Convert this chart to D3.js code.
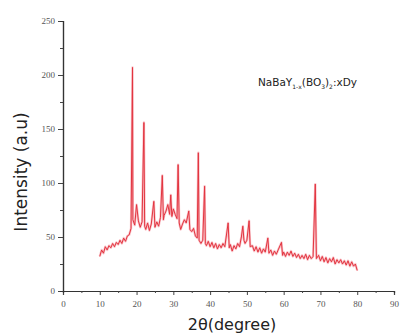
<!DOCTYPE html>
<html>
<head>
<meta charset="utf-8">
<script src="https://cdn.jsdelivr.net/npm/d3@7"></script>
<style>
  body { margin: 0; background: #fff; }
  svg { display: block; }
</style>
</head>
<body>
<div id="chart"></div>
<script>
// XRD pattern
const twoTheta = [
  10.0, 10.5, 11.0, 11.5, 12.0, 12.5, 13.0, 13.5, 14.0, 14.5, 15.0, 15.5, 16.0, 16.5,
  17.0, 17.5, 18.0, 18.5, 18.9, 19.0, 19.5, 20.0, 20.5, 21.0, 21.5, 22.0, 22.2, 22.5,
  23.0, 23.5, 24.0, 24.7, 25.0, 25.5, 26.0, 26.5, 27.0, 27.3, 27.5, 28.0, 28.5, 29.0,
  29.3, 29.6, 30.0, 30.5, 31.0, 31.3, 31.6, 32.0, 32.5, 33.0, 33.5, 34.2, 34.5, 35.0,
  35.5, 36.0, 36.5, 36.8, 37.0, 37.5, 38.0, 38.5, 38.7, 39.0, 39.5, 40.0, 40.5, 41.0,
  41.5, 42.0, 42.5, 43.0, 43.5, 44.0, 44.9, 45.2, 45.5, 46.0, 46.5, 47.0, 47.5, 48.0,
  48.5, 48.9, 49.2, 49.5, 50.0, 50.6, 50.9, 51.5, 52.0, 52.5, 53.0, 53.5, 54.0, 54.5,
  55.0, 55.7, 56.0, 56.5, 57.0, 57.5, 58.0, 58.5, 59.4, 59.7, 60.0, 60.5, 61.0, 61.5,
  62.0, 62.5, 63.0, 63.5, 64.0, 64.5, 65.0, 65.5, 66.0, 66.5, 67.0, 67.5, 68.0, 68.6,
  68.9, 69.5, 70.0, 70.5, 71.0, 71.5, 72.0, 72.5, 73.0, 73.5, 74.0, 74.5, 75.0, 75.5,
  76.0, 76.5, 77.0, 77.5, 78.0, 78.5, 79.0, 79.5, 80.0
];
const intensity = [
  32, 38, 35, 41, 38, 42, 40, 44, 41, 45, 43, 47, 44, 49,
  46, 51, 52, 58, 207, 66, 61, 80, 65, 59, 64, 156, 60, 57,
  63, 56, 62, 83, 59, 64, 60, 68, 107, 66, 70, 74, 80, 71,
  89, 69, 76, 71, 67, 117, 63, 57, 62, 66, 63, 74, 57, 55,
  58, 51, 49, 128, 47, 44, 47, 97, 44, 42, 46, 41, 45, 40,
  44, 39, 43, 40, 44, 41, 63, 40, 43, 37, 42, 39, 44, 41,
  50, 60, 47, 44, 47, 65, 41, 42, 37, 41, 36, 40, 35, 39,
  36, 49, 35, 38, 33, 37, 34, 38, 45, 33, 36, 32, 36, 33,
  37, 32, 35, 31, 34, 30, 33, 30, 34, 29, 33, 30, 32, 99,
  30, 33, 28, 32, 27, 31, 26, 30, 27, 31, 25, 29, 26, 29,
  25, 28, 24, 28, 23, 27, 23, 25, 19
];

const xTicks = [0, 10, 20, 30, 40, 50, 60, 70, 80, 90];
const yTicks = [0, 50, 100, 150, 200, 250];
const sampleLabel = 'NaBaY';

const width = 401;
const height = 335;

const svg = d3.select('#chart')
  .append('svg')
  .attr('width', width)
  .attr('height', height);

const x = d3.scaleLinear().domain([0, 90]).range([63, 394]);
const y = d3.scaleLinear().domain([0, 250]).range([291, 21]);

const points = twoTheta.map((t, i) => ({ t, v: intensity[i] }));
const line = d3.line().x((d) => x(d.t)).y((d) => y(d.v));

// soft pink halo like the scanned figure
svg.append('path')
  .datum(points)
  .attr('fill', 'none')
  .attr('stroke', '#f9c4ca')
  .attr('stroke-width', 2.4)
  .attr('stroke-linejoin', 'round')
  .attr('d', line);

svg.append('path')
  .datum(points)
  .attr('fill', 'none')
  .attr('stroke', '#e3343f')
  .attr('stroke-width', 1)
  .attr('d', line);

// axes
const xAxis = svg.append('g')
  .attr('transform', `translate(0,${y(0)})`)
  .call(d3.axisBottom(x).tickValues(xTicks).tickSize(4).tickFormat(d3.format('d')));
xAxis.append('g').call(d3.axisBottom(x).tickValues(d3.range(5, 90, 10)).tickSize(2).tickFormat(''));

const yAxis = svg.append('g')
  .attr('transform', `translate(${x(0)},0)`)
  .call(d3.axisLeft(y).tickValues(yTicks).tickSize(5).tickFormat(d3.format('d')));
yAxis.append('g').call(d3.axisLeft(y).tickValues(d3.range(25, 250, 50)).tickSize(3).tickFormat(''));

svg.selectAll('.domain').attr('stroke', '#333').attr('stroke-width', 1.2);
svg.selectAll('.tick line').attr('stroke', '#444');
svg.selectAll('.tick text')
  .attr('font-family', 'Liberation Serif, serif')
  .attr('font-size', 9)
  .attr('fill', '#555');
xAxis.selectAll('.tick text').attr('dy', '0.95em');

// axis titles
svg.append('text')
  .attr('x', 232)
  .attr('y', 330)
  .attr('text-anchor', 'middle')
  .attr('font-family', 'DejaVu Sans, sans-serif')
  .attr('font-size', 16)
  .attr('fill', '#222')
  .text('2θ(degree)');

svg.append('text')
  .attr('transform', 'translate(27,172) rotate(-90)')
  .attr('text-anchor', 'middle')
  .attr('font-family', 'DejaVu Sans, sans-serif')
  .attr('font-size', 17)
  .attr('fill', '#222')
  .text('Intensity (a.u)');

// sample label with subscripts
const label = svg.append('text')
  .attr('x', 357)
  .attr('y', 86)
  .attr('text-anchor', 'end')
  .attr('font-family', 'DejaVu Sans, sans-serif')
  .attr('font-size', 10.5)
  .attr('fill', '#222');
label.append('tspan').text(sampleLabel);
label.append('tspan').attr('font-size', 6).attr('dy', 3).text('1-x');
label.append('tspan').attr('dy', -3).text('(BO');
label.append('tspan').attr('font-size', 6).attr('dy', 3).text('3');
label.append('tspan').attr('dy', -3).text(')');
label.append('tspan').attr('font-size', 6).attr('dy', 3).text('2');
label.append('tspan').attr('dy', -3).text(':xDy');
</script>
</body>
</html>
